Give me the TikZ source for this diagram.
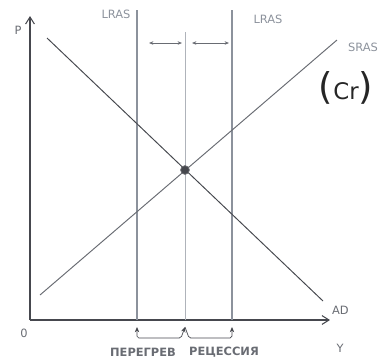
\documentclass[tikz,border=0pt]{standalone}
\usepackage{fontspec}
\setmainfont{DejaVu Sans}
\usetikzlibrary{arrows.meta, positioning}

\definecolor{inkdark}{RGB}{70,72,78}
\definecolor{inkgray}{RGB}{105,108,115}
\definecolor{linegray}{RGB}{140,146,156}

\begin{document}
\begin{tikzpicture}[
    x=0.02cm, y=-0.02cm,
    axis/.style={draw=inkdark, semithick, -{Straight Barb[length=4pt, width=5pt]}},
    curve/.style={draw=inkdark, line width=0.55pt},
    lras/.style={draw=linegray, semithick},
    lbl/.style={font=\fontsize{6.5}{7}\selectfont, text=inkgray, inner sep=1pt},
    shiftarrow/.style={draw=inkgray, thin, {Stealth[length=2.5pt, width=2pt]}-{Stealth[length=2.5pt, width=2pt]}},
    gaparrow/.style={draw=inkdark, thin, rounded corners=1pt},
    dot/.style={circle, fill=inkdark, draw=inkdark!80, minimum size=5pt, inner sep=0pt}
]
    \useasboundingbox (0,0) rectangle (380,363);

    % Axes
    \coordinate (origin) at (30,320);
    \coordinate (ptop) at (30,16);
    \coordinate (yend) at (330,320);
    \draw[axis] (origin) -- (ptop);
    \draw[axis] (origin) -- (yend);
    \node[lbl] (plabel) at (18,30) {P};
    \node[lbl] (zero) at (24,333) {0};
    \node[lbl] (ylabel) at (340,348) {Y};

    % Long-run supply lines (overheating, potential, recession)
    \coordinate (lrasLtop) at (137,10);
    \coordinate (lrasLbot) at (137,320);
    \coordinate (potTop) at (185,32);
    \coordinate (potBot) at (185,320);
    \coordinate (lrasRtop) at (232,10);
    \coordinate (lrasRbot) at (232,320);
    \draw[lras] (lrasLtop) -- (lrasLbot);
    \draw[lras, draw=linegray!70, thin] (potTop) -- (potBot);
    \draw[lras] (lrasRtop) -- (lrasRbot);
    \node[lbl, text=linegray] (lrasLlabel) at (116,14) {LRAS};
    \node[lbl, text=linegray] (lrasRlabel) at (268,19) {LRAS};

    % Shift arrows between the lines
    \coordinate (shiftLa) at (149,43);
    \coordinate (shiftLb) at (182,43);
    \coordinate (shiftRa) at (192,43);
    \coordinate (shiftRb) at (229,43);
    \draw[shiftarrow] (shiftLa) -- (shiftLb);
    \draw[shiftarrow] (shiftRa) -- (shiftRb);

    % Demand and short-run supply
    \coordinate (adTop) at (47,38);
    \coordinate (adBot) at (323,301);
    \coordinate (srasBot) at (40,295);
    \coordinate (srasTop) at (337,40);
    \draw[curve] (adTop) -- (adBot);
    \draw[curve, draw=inkgray] (srasBot) -- (srasTop);
    \node[lbl, anchor=west] (adlabel) at (330,310) {AD};
    \node[lbl, anchor=west, text=linegray] (sraslabel) at (346,47) {SRAS};

    % Handwritten mark
    \node[text=black!85, inner sep=0pt] (mark) at (346,88)
        {{\fontsize{21}{21}\selectfont(}{\fontsize{13}{13}\selectfont Cr}{\fontsize{21}{21}\selectfont)}};

    % Equilibrium
    \node[dot] (eq) at (185,170) {};

    % Gaps under the axis
    \coordinate (tipL) at (137,327);
    \coordinate (tipM) at (185,327);
    \coordinate (tipR) at (232,327);
    \draw[gaparrow, {Stealth[length=3pt, width=2.5pt]}-{Stealth[length=3pt, width=2.5pt]}]
        (tipL) -- (137,338) -- (181,338) -- (tipM);
    \draw[gaparrow, -{Stealth[length=3pt, width=2.5pt]}]
        (tipM) -- (189,338) -- (232,338) -- (tipR);
    \node[lbl, font=\fontsize{6.5}{7}\selectfont\bfseries] (overheat) at (143,352) {ПЕРЕГРЕВ};
    \node[lbl, font=\fontsize{6.5}{7}\selectfont\bfseries] (recession) at (224,352) {РЕЦЕССИЯ};
\end{tikzpicture}
\end{document}
